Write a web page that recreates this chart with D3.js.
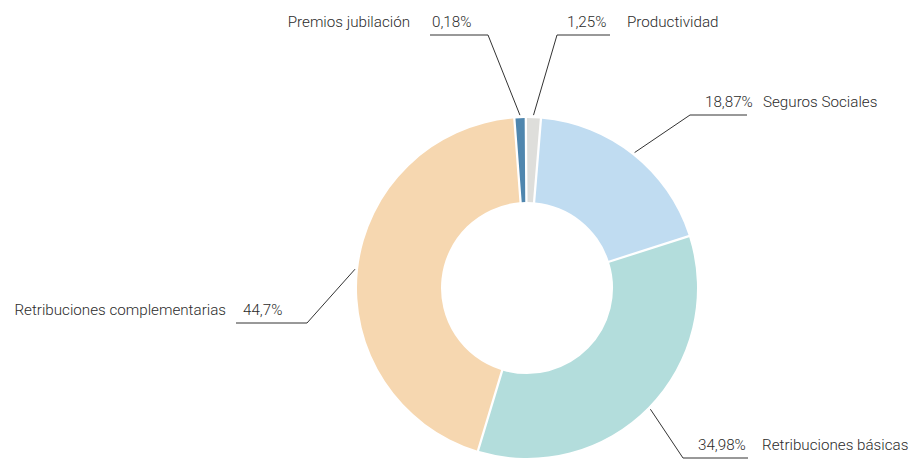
<!DOCTYPE html>
<html>
<head>
<meta charset="utf-8">
<script src="https://cdn.jsdelivr.net/npm/d3@7"></script>
<style>
  html, body { margin: 0; padding: 0; background: #fff; }
  svg text { font-family: Roboto, "Noto Sans", sans-serif; font-weight: 300; font-size: 15.2px; fill: #2b2b2b; }
</style>
</head>
<body>
<svg id="chart"></svg>
<script>
// ===============================
// Data
// ===============================
const categories = ["Productividad", "Seguros Sociales", "Retribuciones básicas", "Retribuciones complementarias", "Premios jubilación"];
const values = [1.25, 18.87, 34.98, 44.7, 0.18];
const valueLabels = ["1,25%", "18,87%", "34,98%", "44,7%", "0,18%"];
const colors = ["#dededb", "#c0dcf1", "#b3dddc", "#f6d7b0", "#4f86ae"];

// ===============================
// Layout
// ===============================
const width = 912,
      height = 461,
      cx = 527,
      cy = 288,
      outerR = 170,
      innerR = 86,
      minShare = 0.9;   // smallest visible slice (in %)

// label elbow (ex, ey), end of horizontal leader (x1), value text start (tx), name x (nx)
const labelLayout = [
    { side: "right", ex: 557, ey: 35,  x1: 610, tx: 567, nx: 627 },
    { side: "right", ex: 690, ey: 115, x1: 747, tx: 705, nx: 763 },
    { side: "right", ex: 683, ey: 458, x1: 748, tx: 698, nx: 762 },
    { side: "left",  ex: 307, ey: 323, x1: 236, tx: 243, nx: 226 },
    { side: "left",  ex: 488, ey: 35,  x1: 430, tx: 432, nx: 410 }
];

const svg = d3.select("#chart")
    .attr("width", width)
    .attr("height", height);

const rows = categories.map((c, i) => ({
    name: c, value: values[i], label: valueLabels[i], color: colors[i], layout: labelLayout[i]
}));

const start = -0.4 * Math.PI / 180;

const pie = d3.pie()
    .sort(null)
    .value(d => Math.max(d.value, minShare))
    .startAngle(start)
    .endAngle(start + 2 * Math.PI)
    .padAngle(0.012);

const arc = d3.arc()
    .innerRadius(innerR)
    .outerRadius(outerR);

const arcs = pie(rows);

const g = svg.append("g").attr("transform", `translate(${cx},${cy})`);

// Slices
g.selectAll("path.slice")
    .data(arcs)
    .enter()
    .append("path")
    .attr("class", "slice")
    .attr("d", arc)
    .attr("fill", d => d.data.color);

// Leader lines
svg.selectAll("polyline")
    .data(arcs)
    .enter()
    .append("polyline")
    .attr("fill", "none")
    .attr("stroke", "#333")
    .attr("stroke-width", 1)
    .attr("points", d => {
        const a = (d.startAngle + d.endAngle) / 2,
              r = outerR + 3,
              L = d.data.layout;
        const p0 = [cx + Math.sin(a) * r, cy - Math.cos(a) * r];
        return [p0, [L.ex, L.ey], [L.x1, L.ey]].map(p => p.join(",")).join(" ");
    });

// Labels
arcs.forEach(d => {
    const L = d.data.layout;
    svg.append("text")
        .attr("x", L.tx)
        .attr("y", L.ey - 8)
        .text(d.data.label);
    svg.append("text")
        .attr("x", L.nx)
        .attr("y", L.ey - 8)
        .attr("text-anchor", L.side === "right" ? "start" : "end")
        .text(d.data.name);
});
</script>
</body>
</html>
